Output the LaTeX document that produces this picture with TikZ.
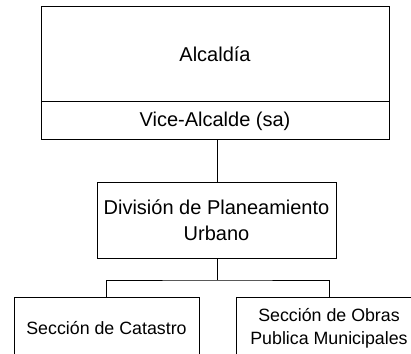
\documentclass[tikz,border=0pt]{standalone}
\usepackage{fontspec}
\setmainfont{Liberation Sans}
\begin{document}
\begin{tikzpicture}[x=1pt,y=1pt,
  box/.style={draw, line width=1pt, rectangle, inner sep=0pt, align=center,
    font=\fontsize{20}{26}\selectfont},
  small/.style={box, font=\fontsize{17.8}{23}\selectfont},
  conn/.style={line width=1pt}]
\useasboundingbox (0,0) rectangle (411,353);
\clip (0,0) rectangle (411,353);
\node[box, minimum width=348pt, minimum height=95pt] (alc) at (215,298.5) {Alcaldía};
\node[box, minimum width=348pt, minimum height=38pt] (vice) at (215,232) {Vice-Alcalde (sa)};
\node[box, minimum width=239pt, minimum height=75pt] (div) at (216.5,132.5) {División de Planeamiento\\Urbano};
\node[small, minimum width=185pt, minimum height=62pt] (cat) at (106.5,25) {Sección de Catastro};
\node[small, minimum width=186pt, minimum height=62pt] (obr) at (329,25) {Sección de Obras\\Publica Municipales};
\coordinate (j) at (217,73);
\draw[conn] (vice.south -| j) -- (div.north -| j);
\draw[conn] (div.south -| j) -- (j);
\draw[conn] (cat.north) |- (j) -| (obr.north);
\end{tikzpicture}
\end{document}
